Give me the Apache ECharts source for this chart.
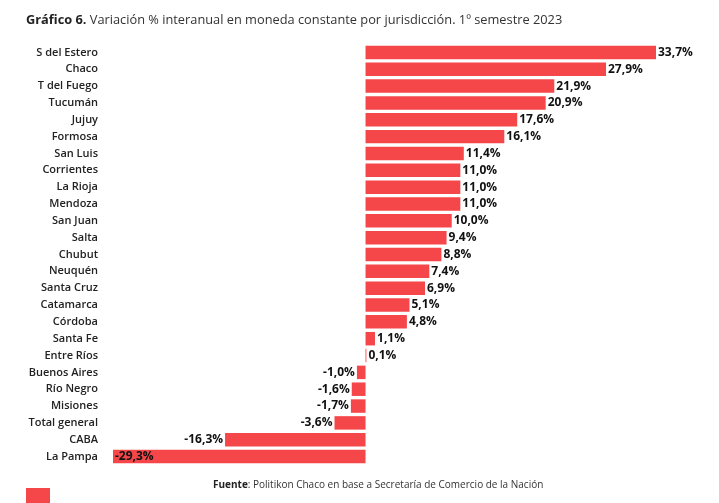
<!DOCTYPE html>
<html><head><meta charset="utf-8">
<script src="https://cdn.jsdelivr.net/npm/echarts@6/dist/echarts.min.js"></script>
<style>html,body{margin:0;padding:0;background:#fff}#c{width:719px;height:503px}</style>
</head><body><div id="c"></div>
<script>
const categories = ["S del Estero","Chaco","T del Fuego","Tucumán","Jujuy","Formosa","San Luis","Corrientes","La Rioja","Mendoza","San Juan","Salta","Chubut","Neuquén","Santa Cruz","Catamarca","Córdoba","Santa Fe","Entre Ríos","Buenos Aires","Río Negro","Misiones","Total general","CABA","La Pampa"];
const values = [33.7,27.9,21.9,20.9,17.6,16.1,11.4,11.0,11.0,11.0,10.0,9.4,8.8,7.4,6.9,5.1,4.8,1.1,0.1,-1.0,-1.6,-1.7,-3.6,-16.3,-29.3];
const titleBold = "Gráfico 6.";
const titleRest = " Variación % interanual en moneda constante por jurisdicción. 1º semestre 2023";
const sourceBold = "Fuente";
const sourceRest = ": Politikon Chaco en base a Secretaría de Comercio de la Nación";

const FONT = "'Open Sans', 'Noto Sans', sans-serif";
const RED = "#F5474A";
const minV = Math.min(...values);
const data = values.map(v => {
  let pos = v >= 0 ? 'right' : 'left';
  if (v === minV) pos = 'insideLeft';
  return { value: v, label: { position: pos } };
});
const chart = echarts.init(document.getElementById('c'), null, {renderer: 'canvas'});
chart.setOption({
  animation: false,
  title: {
    text: '{b|' + titleBold + '}{n|' + titleRest + '}',
    left: 21, top: 9,
    textStyle: { rich: {
      b: { fontFamily: FONT, fontWeight: 'bold', fontSize: 12.8, color: '#222' },
      n: { fontFamily: FONT, fontWeight: 'normal', fontSize: 12.8, color: '#333' }
    }}
  },
  graphic: [
    { type: 'text', left: 213, top: 480, style: {
      text: '{b|' + sourceBold + '}{n|' + sourceRest + '}',
      rich: {
        b: { fontFamily: FONT, fontWeight: 'bold', fontSize: 10, fill: '#222' },
        n: { fontFamily: FONT, fontSize: 10, fill: '#333' }
      }
    }},
    { type: 'rect', left: 26, top: 488, shape: { width: 24, height: 20 }, style: { fill: RED } }
  ],
  grid: { left: 113, width: 543, top: 44, height: 421, containLabel: false },
  xAxis: { type: 'value', min: -29.3, max: 33.7, show: false, splitLine: { show: false } },
  yAxis: {
    type: 'category', data: categories, inverse: true,
    axisLine: { show: false }, axisTick: { show: false },
    axisLabel: { margin: 15, fontFamily: FONT, fontWeight: 600, fontSize: 11, color: '#222' }
  },
  series: [{
    type: 'bar', data: data, barCategoryGap: '20%',
    itemStyle: { color: RED },
    label: {
      show: true, distance: 2, fontFamily: FONT, fontWeight: 'bold', fontSize: 12, color: '#111',
      formatter: p => p.value.toFixed(1).replace('.', ',') + '%'
    }
  }]
});
</script></body></html>
